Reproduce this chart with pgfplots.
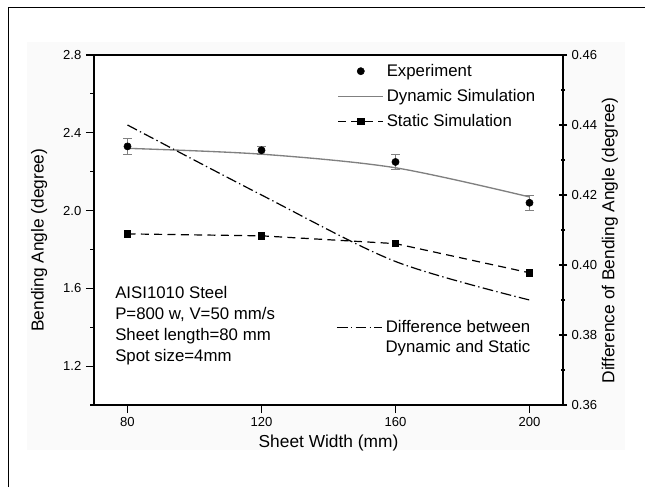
\documentclass[border=0pt]{standalone}
\usepackage{pgfplots}
\pgfplotsset{compat=1.18}
\usepackage{fontspec}
\setmainfont{Liberation Sans}
\definecolor{dyngray}{HTML}{808080}

\pgfplotstableread{
x y e
80 2.33 0.04
120 2.31 0.02
160 2.25 0.04
200 2.04 0.04
}\expdata
\pgfplotstableread{
x y
80 2.32
120 2.29
160 2.22
200 2.07
}\dyndata
\pgfplotstableread{
x y
80 1.88
120 1.87
160 1.83
200 1.68
}\statdata
\pgfplotstableread{
x y
80 0.440
120 0.420
160 0.401
200 0.390
}\diffdata

\pgfplotsset{
  midmark/.style={legend image code/.code={\draw[mark repeat=2,mark phase=2,##1] plot coordinates {(0pt,0pt) (17pt,0pt) (34pt,0pt)};}},
  lineleg/.style={legend image code/.code={\draw[##1] (0pt,0pt) -- (34pt,0pt);}},
  myaxis/.style={
    at={(70.5pt,61.5pt)}, anchor=south west,
    width=351.75pt, height=262.5pt, scale only axis,
    xmin=70, xmax=210,
    tick align=outside,
    major tick length=6pt, minor tick length=3pt,
    every tick/.style={black, line width=0.8pt},
    tick label style={font=\fontsize{9.8}{11}\selectfont},
    /pgf/number format/assume math mode=true,
    legend style={draw=none, fill=none, font=\fontsize{12.6}{15}\selectfont},
  },
}

\begin{document}
\begin{tikzpicture}
\useasboundingbox (0,0) rectangle (483.75pt,365.25pt);
\fill[black!2] (20.25pt,27.75pt) rectangle (468.75pt,333.75pt);
\draw[line width=0.75pt] (6pt,0pt) -- (6pt,359.25pt) -- (483.75pt,359.25pt);

\begin{axis}[myaxis,
  ymin=1.0, ymax=2.8,
  xtick={80,120,160,200},
  ytick={1.2,1.6,2.0,2.4,2.8},
  minor ytick={1.0,1.4,1.8,2.2,2.6},
  yticklabel style={/pgf/number format/.cd,fixed,fixed zerofill,precision=1},
  tick pos=left,
  axis line style={line width=0.9pt},
  axis background/.style={fill=white},
  xlabel={Sheet Width (mm)},
  ylabel={Bending Angle (degree)},
  xlabel style={at={(axis description cs:0.5,-0.108)}, anchor=center, font=\fontsize{13}{15}\selectfont},
  ylabel style={at={(axis description cs:-0.117,0.471)}, anchor=center, font=\fontsize{13}{15}\selectfont},
  legend style={at={(0.51,0.99)}, anchor=north west, row sep=4.3pt},
  legend cell align=left,
]
\addlegendimage{only marks, mark=*, mark size=2.7pt, black, midmark}
\addplot[dyngray, line width=1pt, smooth, no markers, lineleg] table[x=x,y=y] {\dyndata};
\addplot[black, line width=0.9pt, dash pattern=on 6pt off 4pt, mark=square*, mark size=2.4pt,
  mark options={solid}, midmark] table[x=x,y=y] {\statdata};
\addplot[only marks, mark=*, mark size=2.7pt, black,
  error bars/.cd, y dir=both, y explicit,
  error bar style={dyngray, line width=0.7pt},
  error mark options={rotate=90, dyngray, mark size=3.2pt, line width=0.7pt}]
  table[x=x,y=y,y error=e] {\expdata};
\legend{Experiment, Dynamic Simulation, Static Simulation}
\node[anchor=north west, align=left, inner sep=0pt, font=\fontsize{12.6}{15.75}\selectfont]
  at (rel axis cs:0.0448,0.339) {AISI1010 Steel\\P=800 w, V=50 mm/s\\Sheet length=80 mm\\Spot size=4mm};
\end{axis}

\begin{axis}[myaxis,
  ymin=0.36, ymax=0.46,
  axis x line=none,
  axis y line=right,
  y axis line style={-, line width=1.6pt},
  ytick={0.36,0.38,0.40,0.42,0.44,0.46},
  minor ytick={0.37,0.39,0.41,0.43,0.45},
  yticklabel style={/pgf/number format/.cd,fixed,fixed zerofill,precision=2},
  ylabel={Difference of Bending Angle (degree)},
  ylabel style={at={(axis description cs:1.100,0.47)}, anchor=center, font=\fontsize{13}{15}\selectfont},
  legend style={at={(0.945,0.257)}, anchor=north east, row sep=0pt},
  legend cell align=right,
]
\addplot[black, line width=0.9pt, smooth, no markers, dash pattern=on 8pt off 2.5pt on 1pt off 2.5pt,
  lineleg] table[x=x,y=y] {\diffdata};
\addlegendentry{Difference between}
\addlegendimage{empty legend}
\addlegendentry{Dynamic and Static}
\end{axis}
\end{tikzpicture}
\end{document}
